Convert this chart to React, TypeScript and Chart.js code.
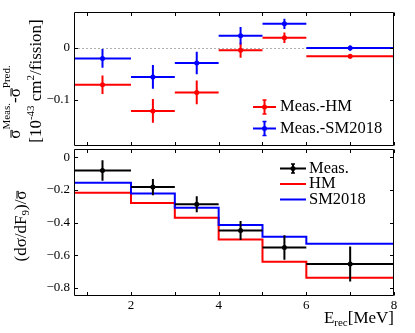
import React, { useEffect, useRef } from 'react';
import { Chart, registerables } from 'chart.js';

Chart.register(...registerables);

// ---------- data ----------
const binLow = [0.7, 2, 3, 4, 5, 6];
const binHigh = [2, 3, 4, 5, 6, 8];
const binCenter = [1.35, 2.5, 3.5, 4.5, 5.5, 7];

const diffHM = [-0.071, -0.122, -0.086, -0.004, 0.02, -0.016];
const diffHMErr = [0.018, 0.023, 0.023, 0.015, 0.01, 0.004];
const diffSM = [-0.02, -0.056, -0.029, 0.024, 0.047, 0.0];
const diffSMErr = [0.018, 0.023, 0.022, 0.017, 0.01, 0.005];

const measSlope = [-0.082, -0.183, -0.288, -0.449, -0.553, -0.654];
const measSlopeErr = [0.063, 0.05, 0.049, 0.058, 0.075, 0.107];
const hmSlope = [-0.218, -0.281, -0.371, -0.504, -0.64, -0.738];
const smSlope = [-0.157, -0.222, -0.31, -0.416, -0.487, -0.53];

const xLabelTicks = [2, 4, 6, 8];
const xMarkTicks = [1, 2, 3, 4, 5, 6, 7, 8];
const topYTicks = [-0.1, 0];
const botYTicks = [-0.8, -0.6, -0.4, -0.2, 0];

const X_MIN = 0.7;
const X_MAX = 8;
const TOP_Y = [-0.19, 0.07];
const BOT_Y = [-0.85, 0.05];

const FONT = "'Liberation Serif', 'Times New Roman', serif";
const RED = '#ff0000';
const BLUE = '#0000ff';
const BLACK = '#000000';

// ---------- helpers ----------
type Seg = { t: string; f: number; dy?: number; over?: number };

function drawRich(ctx: CanvasRenderingContext2D, segs: Seg[], x0: number, y0: number, rotated: boolean, align: 'center' | 'right' | 'left') {
  ctx.save();
  ctx.translate(x0, y0);
  if (rotated) ctx.rotate(-Math.PI / 2);
  ctx.textBaseline = 'alphabetic';
  ctx.textAlign = 'left';
  ctx.fillStyle = '#000';
  ctx.strokeStyle = '#000';
  const widths = segs.map((s) => {
    ctx.font = `${s.f}px ${FONT}`;
    return ctx.measureText(s.t).width;
  });
  const total = widths.reduce((a, b) => a + b, 0);
  let x = align === 'center' ? -total / 2 : align === 'right' ? -total : 0;
  segs.forEach((s, i) => {
    ctx.font = `${s.f}px ${FONT}`;
    ctx.fillText(s.t, x, s.dy || 0);
    if (s.over) {
      ctx.beginPath();
      ctx.lineWidth = 1;
      ctx.moveTo(x + 1, -s.over);
      ctx.lineTo(x + widths[i] - 0.5, -s.over);
      ctx.stroke();
    }
    x += widths[i];
  });
  ctx.restore();
}

const fmtY = (v: number) => (Math.abs(v) < 1e-9 ? '0' : (v < 0 ? '\u2212' : '') + Math.abs(v).toFixed(1));

const binErrorsPlugin = {
  id: 'binErrors',
  beforeDatasetDraw(chart: any, args: any) {
    const ds = chart.data.datasets[args.index];
    if (!ds.binErr) return;
    const ctx = chart.ctx;
    const xs = chart.scales.x;
    const ys = chart.scales.y;
    const { lo, hi, err } = ds.binErr;
    const area = chart.chartArea;
    ctx.save();
    ctx.beginPath();
    ctx.rect(area.left, area.top, area.right - area.left, area.bottom - area.top);
    ctx.clip();
    ctx.strokeStyle = ds.borderColor;
    ctx.lineWidth = 2;
    ds.data.forEach((p: any, i: number) => {
      const y = ys.getPixelForValue(p.y);
      const x = xs.getPixelForValue(p.x);
      ctx.beginPath();
      ctx.moveTo(xs.getPixelForValue(lo[i]), y);
      ctx.lineTo(xs.getPixelForValue(hi[i]), y);
      ctx.moveTo(x, ys.getPixelForValue(p.y + err[i]));
      ctx.lineTo(x, ys.getPixelForValue(p.y - err[i]));
      ctx.stroke();
    });
    ctx.restore();
  },
};

const framePlugin = {
  id: 'frameTicks',
  beforeDatasetsDraw(chart: any, _args: any, opts: any) {
    if (!opts.zeroLine) return;
    const ctx = chart.ctx;
    const a = chart.chartArea;
    const y = Math.round(chart.scales.y.getPixelForValue(0)) + 0.5;
    ctx.save();
    ctx.strokeStyle = '#b0b0b0';
    ctx.lineWidth = 1;
    ctx.setLineDash([2, 2]);
    ctx.beginPath();
    ctx.moveTo(a.left, y);
    ctx.lineTo(a.right, y);
    ctx.stroke();
    ctx.restore();
  },
  afterDraw(chart: any, _args: any, opts: any) {
    const ctx = chart.ctx;
    const a = chart.chartArea;
    const xs = chart.scales.x;
    const ys = chart.scales.y;
    const L = Math.round(a.left) + 0.5;
    const R = Math.round(a.right) - 0.5;
    const T = Math.round(a.top) + 0.5;
    const B = Math.round(a.bottom) - 0.5;
    ctx.save();
    ctx.strokeStyle = '#000';
    ctx.lineWidth = 1;
    ctx.beginPath();
    ctx.moveTo(L, T);
    ctx.lineTo(R, T);
    ctx.lineTo(R, B);
    ctx.lineTo(L, B);
    ctx.closePath();
    (opts.xTicks || []).forEach((v: number) => {
      const x = Math.round(xs.getPixelForValue(v)) + 0.5;
      ctx.moveTo(x, T);
      ctx.lineTo(x, T + 3.5);
      ctx.moveTo(x, B);
      ctx.lineTo(x, B - 3.5);
    });
    (opts.yTicks || []).forEach((v: number) => {
      const y = Math.round(ys.getPixelForValue(v)) + 0.5;
      ctx.moveTo(L, y);
      ctx.lineTo(L + 3.5, y);
      ctx.moveTo(R, y);
      ctx.lineTo(R - 3.5, y);
    });
    ctx.stroke();
    ctx.restore();
    if (opts.decorate) opts.decorate(ctx);
  },
};

function errIcon(ctx: CanvasRenderingContext2D, x1: number, x2: number, y: number, h: number, color: string, dot: boolean) {
  ctx.save();
  ctx.strokeStyle = color;
  ctx.fillStyle = color;
  ctx.lineWidth = 2;
  const xc = (x1 + x2) / 2;
  ctx.beginPath();
  ctx.moveTo(x1, y);
  ctx.lineTo(x2, y);
  ctx.moveTo(xc, y - h);
  ctx.lineTo(xc, y + h);
  ctx.stroke();
  ctx.lineWidth = 1.5;
  ctx.beginPath();
  ctx.moveTo(xc - 2, y - h);
  ctx.lineTo(xc + 2, y - h);
  ctx.moveTo(xc - 2, y + h);
  ctx.lineTo(xc + 2, y + h);
  ctx.stroke();
  if (dot) {
    ctx.beginPath();
    ctx.arc(xc, y, 2.5, 0, Math.PI * 2);
    ctx.fill();
  }
  ctx.restore();
}

function legendText(ctx: CanvasRenderingContext2D, t: string, x: number, y: number) {
  ctx.save();
  ctx.font = `16.5px ${FONT}`;
  ctx.fillStyle = '#000';
  ctx.textAlign = 'left';
  ctx.textBaseline = 'middle';
  ctx.fillText(t, x, y);
  ctx.restore();
}

const toPts = (xs: number[], ys: number[]) => xs.map((x, i) => ({ x, y: ys[i] }));
const stepPts = (vals: number[]) => binLow.map((x, i) => ({ x, y: vals[i] })).concat([{ x: binHigh[binHigh.length - 1], y: vals[vals.length - 1] }]);

function xScale(display: boolean) {
  return {
    type: 'linear',
    display,
    min: X_MIN,
    max: X_MAX,
    afterBuildTicks: (s: any) => {
      s.ticks = xLabelTicks.map((v) => ({ value: v }));
    },
    afterFit: (s: any) => {
      s.height = display ? 37 : 0;
      s.paddingLeft = 0;
      s.paddingRight = 0;
    },
    grid: { display: false, drawTicks: false },
    border: { display: false },
    ticks: {
      padding: 2,
      color: '#000',
      font: { family: FONT, size: 13 },
      maxRotation: 0,
      autoSkip: false,
      callback: (v: number) => String(v),
    },
  };
}

function yScale(range: number[], ticks: number[]) {
  return {
    type: 'linear',
    position: 'left',
    min: range[0],
    max: range[1],
    afterBuildTicks: (s: any) => {
      s.ticks = ticks.map((v) => ({ value: v }));
    },
    afterFit: (s: any) => {
      s.width = 74;
      s.paddingTop = 0;
      s.paddingBottom = 0;
    },
    grid: { display: false, drawTicks: false },
    border: { display: false },
    ticks: {
      padding: 4,
      color: '#000',
      font: { family: FONT, size: 13 },
      autoSkip: false,
      callback: (v: number) => fmtY(v),
    },
  };
}

export default function App() {
  const topRef = useRef<HTMLCanvasElement>(null);
  const botRef = useRef<HTMLCanvasElement>(null);

  useEffect(() => {
    const top = new Chart(topRef.current as HTMLCanvasElement, {
      type: 'scatter',
      data: {
        datasets: [
          {
            data: toPts(binCenter, diffSM),
            borderColor: BLUE,
            backgroundColor: BLUE,
            pointRadius: 2.5,
            pointBorderWidth: 0,
            binErr: { lo: binLow, hi: binHigh, err: diffSMErr },
          } as any,
          {
            data: toPts(binCenter, diffHM),
            borderColor: RED,
            backgroundColor: RED,
            pointRadius: 2.5,
            pointBorderWidth: 0,
            binErr: { lo: binLow, hi: binHigh, err: diffHMErr },
          } as any,
        ],
      },
      options: {
        animation: false,
        responsive: false,
        devicePixelRatio: 1,
        events: [],
        layout: { padding: { top: 12, right: 21, bottom: 1, left: 0 } },
        scales: { x: xScale(false) as any, y: yScale(TOP_Y, topYTicks) as any },
        plugins: {
          legend: { display: false },
          tooltip: { enabled: false },
          frameTicks: {
            xTicks: xMarkTicks,
            yTicks: topYTicks,
            zeroLine: true,
            decorate: (ctx: CanvasRenderingContext2D) => {
              drawRich(
                ctx,
                [
                  { t: '\u03c3', f: 17, over: 9 },
                  { t: 'Meas.', f: 11, dy: -10 },
                  { t: '-', f: 17 },
                  { t: '\u03c3', f: 17, over: 9 },
                  { t: 'Pred.', f: 11, dy: -10 },
                ],
                20,
                102,
                true,
                'center'
              );
              drawRich(
                ctx,
                [
                  { t: '[10', f: 17 },
                  { t: '-43', f: 11, dy: -7 },
                  { t: ' cm', f: 17 },
                  { t: '2', f: 11, dy: -7 },
                  { t: '/fission]', f: 17 },
                ],
                41,
                81,
                true,
                'center'
              );
              errIcon(ctx, 253, 276, 107, 7, RED, true);
              legendText(ctx, 'Meas.-HM', 280, 107);
              errIcon(ctx, 253, 276, 128.5, 7, BLUE, true);
              legendText(ctx, 'Meas.-SM2018', 280, 128.5);
            },
          },
        } as any,
      },
      plugins: [binErrorsPlugin, framePlugin],
    });

    const bot = new Chart(botRef.current as HTMLCanvasElement, {
      type: 'scatter',
      data: {
        datasets: [
          {
            data: toPts(binCenter, measSlope),
            borderColor: BLACK,
            backgroundColor: BLACK,
            pointRadius: 2.5,
            pointBorderWidth: 0,
            binErr: { lo: binLow, hi: binHigh, err: measSlopeErr },
          } as any,
          {
            data: stepPts(smSlope),
            showLine: true,
            stepped: 'before',
            borderColor: BLUE,
            borderWidth: 2,
            pointRadius: 0,
          },
          {
            data: stepPts(hmSlope),
            showLine: true,
            stepped: 'before',
            borderColor: RED,
            borderWidth: 2,
            pointRadius: 0,
          },
        ],
      },
      options: {
        animation: false,
        responsive: false,
        devicePixelRatio: 1,
        events: [],
        layout: { padding: { top: 9, right: 21, bottom: 0, left: 0 } },
        scales: { x: xScale(true) as any, y: yScale(BOT_Y, botYTicks) as any },
        plugins: {
          legend: { display: false },
          tooltip: { enabled: false },
          frameTicks: {
            xTicks: xMarkTicks,
            yTicks: botYTicks,
            zeroLine: false,
            decorate: (ctx: CanvasRenderingContext2D) => {
              drawRich(
                ctx,
                [
                  { t: '(d\u03c3/dF', f: 17 },
                  { t: '9', f: 11, dy: 3 },
                  { t: ')/', f: 17 },
                  { t: '\u03c3', f: 17, over: 9 },
                ],
                26,
                86,
                true,
                'center'
              );
              drawRich(
                ctx,
                [
                  { t: 'E', f: 17 },
                  { t: 'rec', f: 11, dy: 3 },
                  { t: '[MeV]', f: 17 },
                ],
                394,
                183,
                false,
                'right'
              );
              errIcon(ctx, 280, 306, 28.5, 4.5, BLACK, true);
              legendText(ctx, 'Meas.', 309, 28.5);
              ctx.save();
              ctx.lineWidth = 2;
              ctx.strokeStyle = RED;
              ctx.beginPath();
              ctx.moveTo(280, 44);
              ctx.lineTo(306, 44);
              ctx.stroke();
              ctx.strokeStyle = BLUE;
              ctx.beginPath();
              ctx.moveTo(280, 59.5);
              ctx.lineTo(306, 59.5);
              ctx.stroke();
              ctx.restore();
              legendText(ctx, 'HM', 309, 44);
              legendText(ctx, 'SM2018', 309, 59.5);
            },
          },
        } as any,
      },
      plugins: [binErrorsPlugin, framePlugin],
    });

    return () => {
      top.destroy();
      bot.destroy();
    };
  }, []);

  return (
    <div style={{ position: 'fixed', left: 0, top: 0, width: 415, height: 333, background: '#fff', overflow: 'hidden' }}>
      <canvas ref={topRef} width={415} height={150} style={{ position: 'absolute', left: 0, top: 0, width: 415, height: 150 }} />
      <canvas ref={botRef} width={415} height={193} style={{ position: 'absolute', left: 0, top: 140, width: 415, height: 193 }} />
    </div>
  );
}
